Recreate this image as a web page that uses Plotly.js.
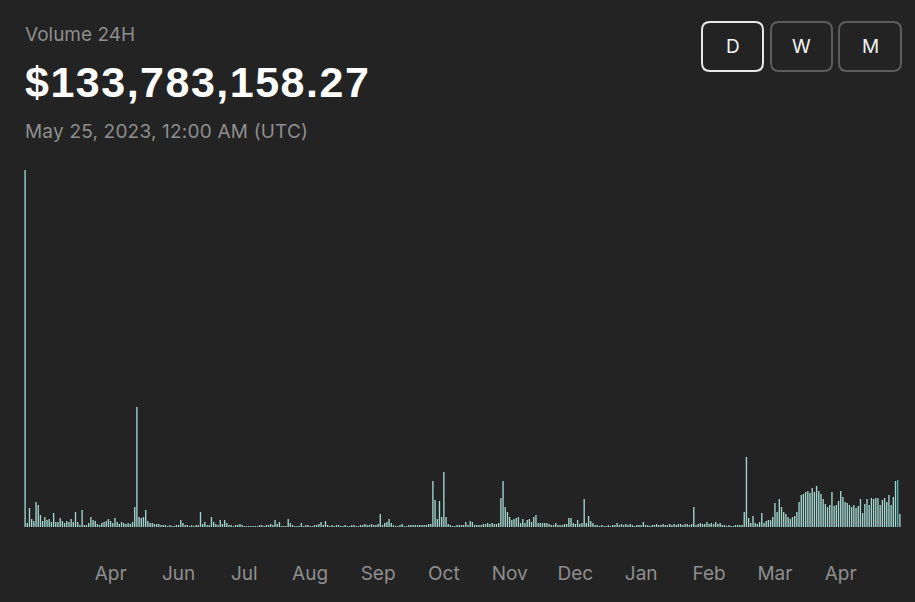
<!DOCTYPE html>
<html>
<head>
<meta charset="utf-8">
<script src="https://cdn.plot.ly/plotly-3.0.1.min.js"></script>
<style>
  html, body { margin: 0; padding: 0; background: #232323; }
  #chart { width: 915px; height: 602px; }
</style>
</head>
<body>
<div id="chart"></div>
<script>
// Daily 24H volume (arbitrary units), oldest first
const volume = [
  357, 4, 19, 8, 6, 25, 22, 12, 6, 10, 7, 8, 5, 14, 5, 5, 9, 6, 4, 6,
  5, 8, 5, 15, 5, 2, 17, 2, 2, 4, 10, 7, 6, 3, 2, 4, 5, 6, 8, 6,
  4, 9, 5, 3, 5, 4, 3, 4, 3, 5, 20, 120, 10, 9, 10, 17, 6, 4, 4, 3,
  3, 3, 2, 2, 2, 1, 2, 1, 1, 2, 2, 7, 4, 2, 2, 1, 2, 1, 2, 2,
  15, 3, 5, 2, 2, 10, 5, 3, 2, 7, 3, 7, 4, 2, 2, 1, 2, 2, 3, 2,
  1, 1, 1, 1, 1, 1, 1, 2, 2, 1, 2, 2, 3, 2, 7, 3, 5, 1, 1, 1,
  8, 4, 2, 1, 1, 1, 4, 1, 2, 2, 1, 1, 2, 2, 3, 5, 2, 6, 2, 1,
  2, 1, 2, 2, 1, 1, 2, 1, 1, 2, 2, 1, 1, 2, 2, 3, 2, 2, 3, 2,
  2, 3, 13, 2, 4, 5, 8, 4, 2, 1, 1, 2, 3, 1, 1, 2, 2, 2, 2, 2,
  2, 2, 2, 2, 3, 3, 46, 27, 8, 26, 10, 55, 10, 3, 2, 1, 1, 2, 2, 2,
  2, 5, 2, 6, 5, 2, 2, 2, 2, 3, 3, 4, 3, 4, 3, 3, 4, 29, 46, 20,
  15, 10, 7, 8, 9, 10, 4, 8, 4, 7, 8, 5, 10, 12, 4, 4, 4, 4, 4, 3,
  2, 2, 4, 2, 2, 2, 3, 3, 9, 9, 4, 3, 7, 3, 4, 28, 4, 11, 6, 4,
  2, 2, 1, 2, 1, 1, 2, 1, 2, 2, 4, 2, 3, 2, 3, 2, 3, 2, 1, 2,
  2, 2, 5, 2, 2, 1, 2, 2, 3, 2, 2, 3, 2, 2, 3, 2, 3, 2, 3, 3,
  2, 3, 3, 2, 3, 20, 2, 3, 4, 3, 3, 5, 3, 4, 3, 5, 3, 4, 2, 2,
  1, 2, 1, 1, 2, 2, 2, 2, 15, 70, 9, 4, 11, 4, 3, 5, 14, 4, 6, 7,
  7, 10, 24, 15, 28, 20, 15, 13, 10, 8, 10, 11, 15, 25, 32, 33, 35, 36, 34, 39,
  35, 41, 36, 33, 28, 23, 20, 22, 35, 21, 22, 26, 36, 30, 25, 24, 22, 20, 22, 19,
  21, 28, 14, 23, 28, 22, 29, 28, 29, 29, 22, 27, 29, 25, 32, 22, 30, 46, 47, 13
];
const highlightIndex = 398;

// Month tick labels and the day index where each sits
const tickLabels = ["Apr", "Jun", "Jul", "Aug", "Sep", "Oct", "Nov", "Dec", "Jan", "Feb", "Mar", "Apr"];
const tickDays   = [39, 70, 100, 130, 161, 191, 221, 251, 281, 312, 342, 372];

const headerLabel = "Volume 24H";
const headerValue = "$133,783,158.27";
const headerDate  = "May 25, 2023, 12:00 AM (UTC)";
const periods = ["D", "W", "M"];

// ---- layout geometry ----
const W = 915, H = 602;
const M = {l: 24, r: 14, t: 170, b: 75};
const PW = W - M.l - M.r, PH = H - M.t - M.b;
const px = x => (x - M.l) / PW;
const py = y => (H - M.b - y) / PH;

const barColors = volume.map((v, i) => i === highlightIndex ? '#4fb3a7' : '#a3d6ce');

const annotations = [
  {text: headerLabel, x: px(23), y: py(34), xanchor: 'left', yanchor: 'middle',
   font: {family: 'Inter, Roboto, sans-serif', size: 19, color: '#8e8e8e'}},
  {text: '<b><span style="letter-spacing:1.5px">' + headerValue + '</span></b>', x: px(23), y: py(82), xanchor: 'left', yanchor: 'middle',
   font: {family: 'Liberation Sans, Arial, sans-serif', size: 43, color: '#ffffff'}},
  {text: '<span style="letter-spacing:0.2px">' + headerDate + '</span>', x: px(23), y: py(132), xanchor: 'left', yanchor: 'middle',
   font: {family: 'Inter, Roboto, sans-serif', size: 19, color: '#8e8e8e'}}
];

const btnBoxes = [[702, 763], [771, 832], [839, 901]];
const btnTop = 22, btnBot = 71, rad = 8;
const shapes = [];
btnBoxes.forEach((b, k) => {
  const [x0, x1] = b;
  const p = (x, y) => px(x) + ',' + py(y);
  const path = 'M' + p(x0 + rad, btnTop) + ' L' + p(x1 - rad, btnTop) +
    ' Q' + p(x1, btnTop) + ' ' + p(x1, btnTop + rad) +
    ' L' + p(x1, btnBot - rad) + ' Q' + p(x1, btnBot) + ' ' + p(x1 - rad, btnBot) +
    ' L' + p(x0 + rad, btnBot) + ' Q' + p(x0, btnBot) + ' ' + p(x0, btnBot - rad) +
    ' L' + p(x0, btnTop + rad) + ' Q' + p(x0, btnTop) + ' ' + p(x0 + rad, btnTop) + ' Z';
  shapes.push({type: 'path', xref: 'paper', yref: 'paper', path: path,
    line: {color: k === 0 ? '#e8e8e8' : '#5c5c5c', width: 2}, fillcolor: 'rgba(0,0,0,0)'});
  annotations.push({text: periods[k], x: px((x0 + x1) / 2), y: py(47), xref: 'paper', yref: 'paper',
    xanchor: 'center', yanchor: 'middle', showarrow: false,
    font: {family: 'Inter, Roboto, sans-serif', size: 19, color: '#f2f2f2'}});
});
annotations.forEach(a => { a.xref = 'paper'; a.yref = 'paper'; a.showarrow = false; });

const trace = {
  type: 'bar',
  y: volume,
  marker: {color: barColors, line: {width: 0}},
  hoverinfo: 'none'
};

const layout = {
  width: W, height: H,
  margin: M,
  paper_bgcolor: '#232323',
  plot_bgcolor: '#232323',
  showlegend: false,
  bargap: 0.38,
  xaxis: {
    range: [-0.5, volume.length - 0.5],
    tickmode: 'array', tickvals: tickDays, ticktext: tickLabels,
    showgrid: false, zeroline: false, showline: false, ticks: '',
    ticklabelstandoff: 33,
    tickfont: {family: 'Inter, Roboto, sans-serif', size: 19, color: '#8e8e8e'}
  },
  yaxis: {
    range: [0, 357], showgrid: false, zeroline: false, showline: false,
    showticklabels: false, ticks: ''
  },
  annotations: annotations,
  shapes: shapes
};

Plotly.newPlot('chart', [trace], layout, {displayModeBar: false, staticPlot: true});
</script>
</body>
</html>
